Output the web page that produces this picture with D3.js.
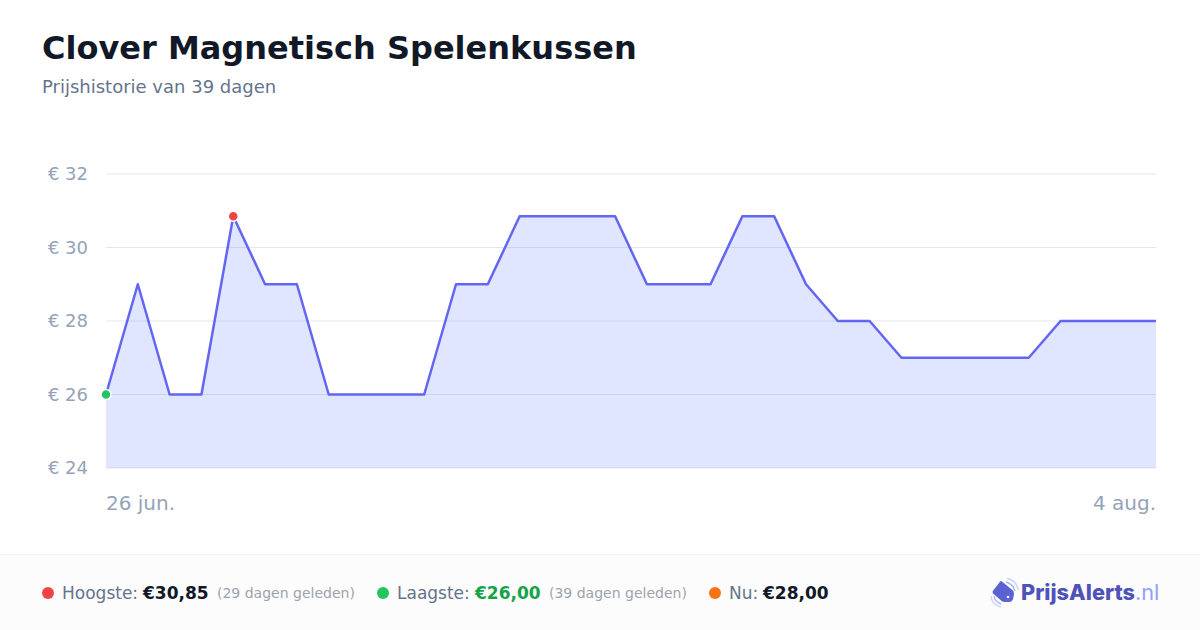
<!DOCTYPE html>
<html lang="nl">
<head>
<meta charset="UTF-8">
<title>Clover Magnetisch Spelenkussen</title>
<style>
  html, body { margin: 0; padding: 0; background: #fff; }
  svg { display: block; }
  text { font-family: "DejaVu Sans", sans-serif; }
</style>
</head>
<body>
<svg id="svg" width="1200" height="630"></svg>
<script src="https://d3js.org/d3.v7.min.js"></script>
<script>
const prices = [26, 29, 26, 26, 30.85, 29, 29, 26, 26, 26, 26, 29, 29, 30.85, 30.85, 30.85, 30.85,
  29, 29, 29, 30.85, 30.85, 29, 28, 28, 27, 27, 27, 27, 27, 28, 28, 28, 28]
const yTicks = [24, 26, 28, 30, 32]
const dateLabels = ['26 jun.', '4 aug.']
const highIndex = 4
const lowIndex = 0

const svg = d3.select('#svg')
const x = d3.scaleLinear().domain([0, prices.length - 1]).range([106, 1156])
const y = d3.scaleLinear().domain([24, 32]).range([468, 174])

// header
svg.append('text').text('Clover Magnetisch Spelenkussen')
  .attr('x', 42).attr('y', 59)
  .style('font-size', '32px').style('font-weight', 700).attr('fill', '#111827')
svg.append('text').text('Prijshistorie van 39 dagen')
  .attr('x', 42).attr('y', 93)
  .style('font-size', '18px').attr('fill', '#64748b')

// grid
svg.selectAll('.grid').data(yTicks).enter().append('line')
  .attr('x1', 106).attr('x2', 1156)
  .attr('y1', d => y(d)).attr('y2', d => y(d))
  .attr('stroke', '#e5e7eb').attr('stroke-width', 1)
svg.selectAll('.ylab').data(yTicks).enter().append('text')
  .text(d => `€ ${d}`)
  .attr('x', 88).attr('y', d => y(d) + 6).attr('text-anchor', 'end')
  .style('font-size', '18px').attr('fill', '#94a3b8')

// area + line
const area = d3.area().x((d, i) => x(i)).y0(y(24)).y1(d => y(d))
const line = d3.line().x((d, i) => x(i)).y(d => y(d))
svg.append('path').attr('d', area(prices)).attr('fill', '#6480ff').attr('opacity', 0.2)
svg.append('path').attr('d', line(prices)).attr('fill', 'none')
  .attr('stroke', '#6366f1').attr('stroke-width', 2.5).attr('stroke-linejoin', 'round')

// high / low markers
svg.append('circle').attr('cx', x(highIndex)).attr('cy', y(prices[highIndex])).attr('r', 5)
  .attr('fill', '#ef4444').attr('stroke', '#fff').attr('stroke-width', 1.5)
svg.append('circle').attr('cx', x(lowIndex)).attr('cy', y(prices[lowIndex])).attr('r', 5)
  .attr('fill', '#22c55e').attr('stroke', '#fff').attr('stroke-width', 1.5)

// date labels
svg.append('text').text(dateLabels[0]).attr('x', 106).attr('y', 510)
  .style('font-size', '20px').attr('fill', '#94a3b8')
svg.append('text').text(dateLabels[1]).attr('x', 1156).attr('y', 510).attr('text-anchor', 'end')
  .style('font-size', '20px').attr('fill', '#94a3b8')

// footer
svg.append('rect').attr('x', 0).attr('y', 555).attr('width', 1200).attr('height', 75).attr('fill', '#fcfcfc')
svg.append('line').attr('x1', 0).attr('x2', 1200).attr('y1', 554.5).attr('y2', 554.5).attr('stroke', '#f3f4f6')

const footerY = 593
function dot(cx, color) {
  svg.append('circle').attr('cx', cx).attr('cy', footerY).attr('r', 6).attr('fill', color)
}
function label(px, txt, size, color, weight, dy) {
  svg.append('text').text(txt).attr('x', px).attr('y', footerY + (dy || 6))
    .style('font-size', size + 'px').style('font-weight', weight || 400).attr('fill', color)
}
dot(48, '#ef4444')
label(62, 'Hoogste:', 17, '#64748b')
label(143, '€30,85', 17, '#111827', 700)
label(217, '(29 dagen geleden)', 14, '#9ca3af', 400, 5)
dot(383, '#22c55e')
label(397, 'Laagste:', 17, '#64748b')
label(475, '€26,00', 17, '#16a34a', 700)
label(549, '(39 dagen geleden)', 14, '#9ca3af', 400, 5)
dot(715, '#f97316')
label(729, 'Nu:', 17, '#64748b')
label(763, '€28,00', 17, '#111827', 700)

// logo
const logo = svg.append('g')
logo.append('path')
  .attr('d', 'M1001 582 L1012 591 Q1013 592 1013 594 L1012 599 Q1011 601 1009 601 L1005 601 Q1003 601 1002 600 L994 593 Q993 592 994 591 Z')
  .attr('fill', '#5b63d3').attr('stroke', '#5b63d3').attr('stroke-width', 2).attr('stroke-linejoin', 'round')
logo.append('circle').attr('cx', 1008).attr('cy', 597).attr('r', 1.3).attr('fill', '#fff')
logo.append('path').attr('d', 'M1006 582 Q1013 584 1015 591').attr('fill', 'none').attr('stroke', '#a5b4fc').attr('stroke-width', 1.4)
logo.append('path').attr('d', 'M1007 578.5 Q1016 580 1018.5 590').attr('fill', 'none').attr('stroke', '#c7d2fe').attr('stroke-width', 1.4)
logo.append('path').attr('d', 'M994 596 Q995 602 1001 604').attr('fill', 'none').attr('stroke', '#a5b4fc').attr('stroke-width', 1.4)
logo.append('path').attr('d', 'M991 596 Q992 605 1001 607').attr('fill', 'none').attr('stroke', '#c7d2fe').attr('stroke-width', 1.4)
const brand = logo.append('text').attr('x', 1021).attr('y', 600).style('font-size', '21.7px')
  .style('font-family', 'Inter, sans-serif')
brand.append('tspan').text('PrijsAlerts').style('font-weight', 800).attr('fill', '#4f52b8')
brand.append('tspan').text('.nl').style('font-weight', 400).attr('fill', '#93a0fb')
</script>
</body>
</html>
